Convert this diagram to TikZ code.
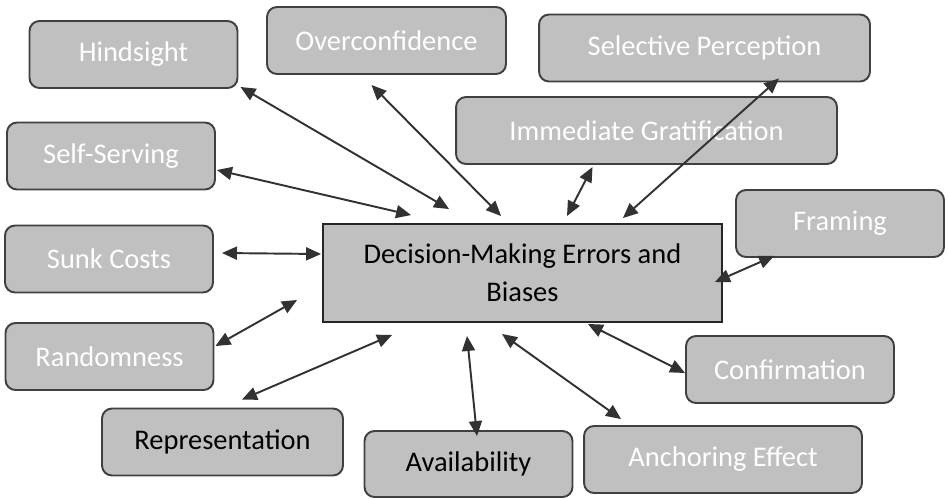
\documentclass[tikz,border=0pt]{standalone}
\usepackage{fontspec}
\setmainfont{Carlito}
\usepackage{xcolor}
\usetikzlibrary{arrows.meta, calc}
\definecolor{biasgray}{RGB}{192, 192, 192}
\definecolor{edgegray}{RGB}{64, 64, 64}
\definecolor{linkgray}{RGB}{50, 50, 50}

\begin{document}
\begin{tikzpicture}[
  x=0.02cm, y=-0.02cm,
  every node/.style={font=\fontsize{16.2}{21.6}\selectfont},
  bias/.style={draw=edgegray, fill=biasgray, line width=1.1pt, rounded corners=0.2cm, text=white, minimum width=4.16cm, minimum height=1.34cm, inner sep=0pt},
  darkbias/.style={bias, text=black},
  core/.style={draw=black!85, fill=biasgray, line width=1.1pt, minimum width=7.98cm, minimum height=1.96cm, align=center, inner sep=0pt},
  link/.style={{Triangle[length=0.3cm, width=0.26cm]}-{Triangle[length=0.3cm, width=0.26cm]}, line width=1.1pt, color=linkgray}
]
  \useasboundingbox (0, 0) rectangle (949, 498);

  % Centro
  \node[core] (dm) at (522.5, 273) {Decision-Making Errors and\\Biases};

  % Biases
  \node[bias] (hind) at (133.5, 54.5) {Hindsight};
  \node[bias, minimum width=4.78cm] (over) at (386.5, 40.5) {Overconfidence};
  \node[bias, minimum width=6.62cm] (sel) at (704.5, 48) {Selective Perception};
  \node[bias, minimum width=7.62cm] (imm) at (646.5, 130.5) {Immediate Gratification};
  \node[bias] (self) at (111, 156) {Self-Serving};
  \node[bias] (sunk) at (109, 259) {Sunk Costs};
  \node[bias] (fram) at (840, 223.5) {Framing};
  \node[bias] (rand) at (109.5, 356.5) {Randomness};
  \node[bias] (conf) at (790, 369.5) {Confirmation};
  \node[darkbias, minimum width=4.82cm] (rep) at (222.5, 442) {Representation};
  \node[darkbias, minimum height=1.32cm] (avail) at (468.5, 464) {Availability};
  \node[bias, minimum width=5.56cm] (anch) at (723, 459.5) {Anchoring Effect};

  % Frecce
  \draw[link] ($(hind.south east)+(2, -2)$) -- ($(dm.north west)+(127, -14)$);
  \draw[link] ($(self.east)+(1, 14)$) -- ($(dm.north west)+(89, -8)$);
  \draw[link] ($(over.south)+(-15, 10)$) -- ($(dm.north west)+(179, -7)$);
  \draw[link] ($(imm.south)+(-54, 2)$) -- ($(dm.north)+(44.5, -7)$);
  \draw[link] ($(sel.south)+(74.5, -4)$) -- ($(dm.north east)+(-100, -5)$);
  \draw[link] ($(fram.south west)+(39, -2)$) -- ($(dm.east)+(-8, 9)$);
  \draw[link] ($(conf.west)+(0, 3.5)$) -- ($(dm.south east)+(-135, 1)$);
  \draw[link] ($(anch.north west)+(38, -6)$) -- ($(dm.south)+(-20.5, 11)$);
  \draw[link] ($(avail.north)+(8.5, 6)$) -- ($(dm.south)+(-55.5, 13)$);
  \draw[link] ($(rep.north)+(19.5, -8)$) -- ($(dm.south west)+(70, 12)$);
  \draw[link] ($(rand.east)+(1, -10.5)$) -- ($(dm.west)+(-25, 27)$);
  \draw[link] ($(sunk.east)+(8, -6)$) -- ($(dm.west)+(-1, -19)$);

\end{tikzpicture}
\end{document}
